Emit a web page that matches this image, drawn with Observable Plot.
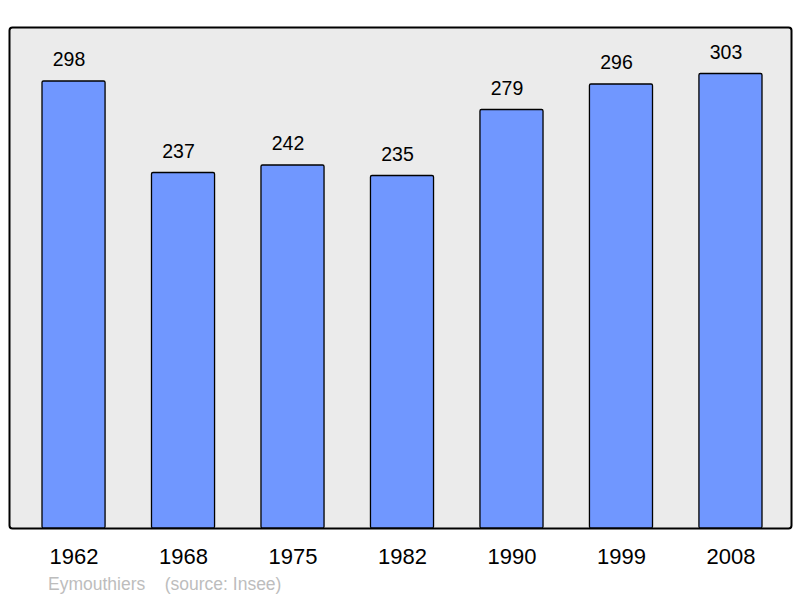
<!DOCTYPE html>
<html>
<head>
<meta charset="utf-8">
<script src="https://cdn.jsdelivr.net/npm/d3@7"></script>
<script src="https://cdn.jsdelivr.net/npm/@observablehq/plot@0.6"></script>
<style>
  html, body { margin: 0; padding: 0; background: #ffffff; }
  #wrap { position: relative; width: 800px; height: 598px; font-family: "Liberation Sans", Arial, sans-serif; }
  #caption { position: absolute; left: 48px; top: 576px; font-size: 17.5px; color: #bdbdbd; white-space: pre; line-height: 17px; }
</style>
</head>
<body>
<div id="wrap">
  <div id="chart"></div>
  <div id="caption">Eymouthiers    (source: Insee)</div>
</div>
<script>
const years = ["1962", "1968", "1975", "1982", "1990", "1999", "2008"];
const population = [298, 237, 242, 235, 279, 296, 303];

const data = years.map((y, i) => ({year: y, pop: population[i]}));

const chart = Plot.plot({
  width: 800,
  height: 570,
  marginTop: 27,
  marginBottom: 42,
  marginLeft: 9,
  marginRight: 9,
  style: {fontFamily: "'Liberation Sans', Arial, sans-serif", background: "transparent"},
  x: {domain: years, range: [42, 762], paddingInner: 0.424, paddingOuter: 0, round: false, label: null},
  y: {domain: [0, 334], axis: null},
  marks: [
    Plot.frame({fill: "#ebebeb", stroke: "#000", strokeWidth: 2, rx: 3}),
    Plot.barY(data, {x: "year", y: "pop", fill: "#7097ff", stroke: "#000", strokeWidth: 1.3, rx: 1.5}),
    Plot.text(data, {x: "year", y: "pop", text: d => String(d.pop), dy: -15.5, dx: -5, lineAnchor: "bottom", fontSize: 19.5, fill: "#000"}),
    Plot.axisX({tickSize: 0, tickPadding: 20, fontSize: 22, color: "#000", label: null})
  ]
});
document.getElementById("chart").appendChild(chart);
</script>
</body>
</html>
